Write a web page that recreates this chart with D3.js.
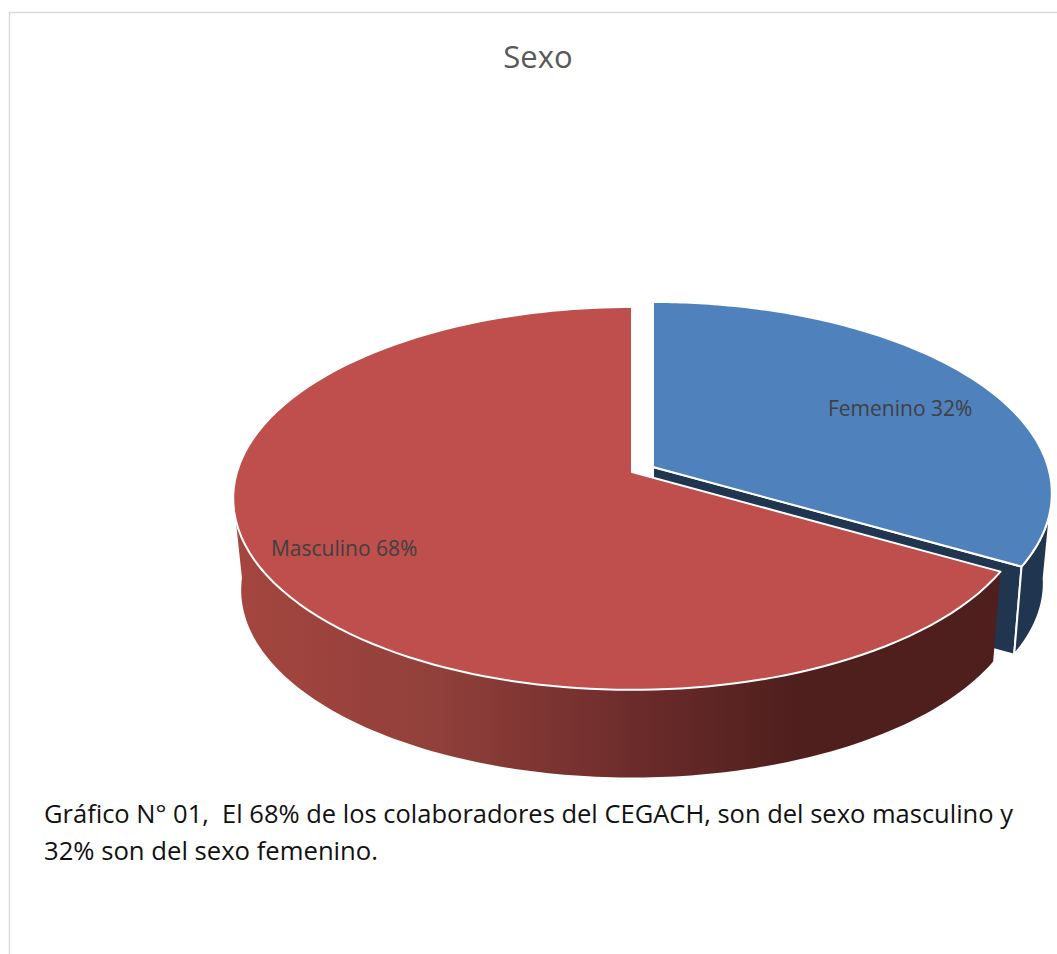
<!DOCTYPE html>
<html>

<head>
    <meta charset="utf-8">
    <title>Sexo</title>
    <style>
        * {
            margin: 0;
            padding: 0;
        }

        body {
            background-color: #fff;
            overflow: hidden;
        }

        svg {
            display: block;
        }
    </style>
    <script src="https://cdn.jsdelivr.net/npm/d3@7/dist/d3.min.js" type="text/javascript"></script>
</head>

<body>
    <div id="root"></div>

    <script>
        // data
        var categories = ["Femenino", "Masculino"];
        var percents = [32, 68];
        var chartTitle = "Sexo";
        var captionLines = [
            "Gráfico N° 01,  El 68% de los colaboradores del CEGACH, son del sexo masculino y",
            "32% son del sexo femenino."
        ];

        var width = 1057;
        var height = 954;

        var colors = ["#4f81bd", "#be4f4c"];
        var sideColor = "#1f3550";

        // the exploded slices sit on their own apex
        var apex = [{ x: 653, y: 467 }, { x: 632, y: 472 }];
        var depth = [90, 92];
        var labelSpot = [{ r: 0.73, turn: 0.175 }, { r: 0.79, turn: 0.133 }];

        var rimX = 395, rimY = 187.8, tilt = 0.138, foreshorten = 0.1;
        var shrink = 0.98;

        var svg = d3.select("#root").append("svg").attr("width", width).attr("height", height);

        // chart frame
        svg.append("path")
            .attr("d", "M9.5," + height + "V12.5H" + width)
            .attr("fill", "none")
            .attr("stroke", "#d9d9d9")
            .attr("stroke-width", 1.5);

        svg.append("text")
            .attr("x", 538)
            .attr("y", 68)
            .attr("text-anchor", "middle")
            .attr("font-family", "'Open Sans'")
            .attr("font-size", 31)
            .attr("fill", "#595959")
            .text(chartTitle);

        // pie angle -> screen, perspective view of the disc
        function upper(i, a, r) {
            var t = a - foreshorten * Math.sin(2 * a);
            var u = r * Math.sin(t), v = -r * Math.cos(t);
            var w = 1 - tilt * v;
            return [apex[i].x + rimX * u / w, apex[i].y + rimY * v / w];
        }

        function lower(i, a) {
            var p = upper(i, a, 1);
            return [
                apex[i].x + shrink * (p[0] - apex[i].x),
                apex[i].y + shrink * (p[1] - apex[i].y) + depth[i]
            ];
        }

        function angles(a0, a1) {
            var n = 120;
            return d3.range(n + 1).map(function (k) {
                return a0 + (a1 - a0) * k / n;
            });
        }

        var line = d3.line();
        var slices = d3.pie().sort(null)(percents);

        var grad = svg.append("defs").append("linearGradient")
            .attr("id", "redSide")
            .attr("gradientUnits", "userSpaceOnUse")
            .attr("x1", 233).attr("x2", 800).attr("y1", 0).attr("y2", 0);
        grad.append("stop").attr("offset", "0").attr("stop-color", "#a5453f");
        grad.append("stop").attr("offset", "0.35").attr("stop-color", "#92403b");
        grad.append("stop").attr("offset", "0.7").attr("stop-color", "#6d2c2b");
        grad.append("stop").attr("offset", "1").attr("stop-color", "#4e1f1d");

        var sideFill = [sideColor, "url(#redSide)"];

        // far slice first, near slice on top of it
        slices.forEach(function (d, i) {
            var a0 = d.startAngle, a1 = d.endAngle;
            var g = svg.append("g").attr("class", "slice-" + i);

            // cut wall, only the first slice shows one
            if (i === 0) {
                var e0 = upper(i, a1, 1), e1 = lower(i, a1);
                var base = [apex[i].x, apex[i].y + depth[i]];
                g.append("path")
                    .attr("d", line([[apex[i].x, apex[i].y], e0, e1, base]) + "Z")
                    .attr("fill", sideColor)
                    .attr("stroke", "#fff")
                    .attr("stroke-width", 2);
            }

            // outer wall, the two arcs stop at their own silhouette so the edge runs straight
            var upperArc = i === 0 ? angles(Math.PI * 0.56, a1) : angles(a0, Math.PI * 1.433);
            var lowerArc = i === 0 ? angles(Math.PI * 0.53, a1) : angles(a0, Math.PI * 1.48);
            var wall = upperArc.map(function (a) { return upper(i, a, 1); })
                .concat(lowerArc.reverse().map(function (a) { return lower(i, a); }));
            g.append("path")
                .attr("d", line(wall) + "Z")
                .attr("fill", sideFill[i])
                .attr("stroke", i === 0 ? "#fff" : "none")
                .attr("stroke-width", 2);

            // top face
            var rim = angles(a0, a1).map(function (a) { return upper(i, a, 1); });
            g.append("path")
                .attr("d", line([[apex[i].x, apex[i].y]].concat(rim)) + "Z")
                .attr("fill", colors[i])
                .attr("stroke", "#fff")
                .attr("stroke-width", 2)
                .attr("stroke-linejoin", "round");
        });

        // labels go on after both slices
        slices.forEach(function (d, i) {
            var mid = (d.startAngle + d.endAngle) / 2 + labelSpot[i].turn;
            var p = upper(i, mid, labelSpot[i].r);
            svg.append("text")
                .attr("x", p[0])
                .attr("y", p[1])
                .attr("dy", "0.35em")
                .attr("text-anchor", "middle")
                .attr("font-family", "'Open Sans'")
                .attr("font-size", 21)
                .attr("fill", "#404040")
                .text(categories[i] + " " + percents[i] + "%");
        });

        svg.selectAll("text.caption").data(captionLines).enter()
            .append("text")
            .attr("class", "caption")
            .attr("x", 44)
            .attr("y", function (d, i) { return 823 + i * 37; })
            .attr("font-family", "'Open Sans'")
            .attr("font-size", 25)
            .attr("fill", "#111")
            .style("white-space", "pre")
            .attr("textLength", function (d, i) { return i === 0 ? 969 : 334; })
            .attr("lengthAdjust", "spacingAndGlyphs")
            .text(function (d) { return d; });
    </script>
</body>

</html>
